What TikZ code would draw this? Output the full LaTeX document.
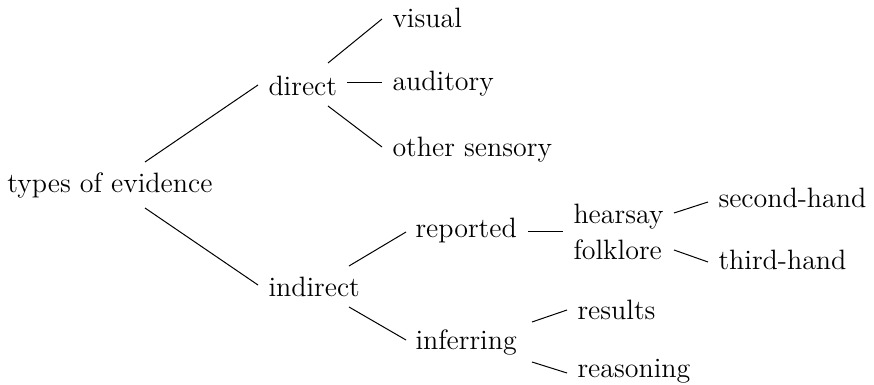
\documentclass[tikz,border=0pt]{standalone}
\begin{document}
\begin{tikzpicture}[x=0.5pt,y=-0.5pt,line width=0.5pt,
    word/.style={anchor=base west,inner sep=0pt,font=\fontsize{14}{17}\selectfont}]
  \useasboundingbox (0,0) rectangle (874,385);
  \node[word] (types) at (7,193) {types of evidence};
  \node[word] (direct) at (268,96) {direct};
  \node[word] (indirect) at (268,297) {indirect};
  \node[word] (visual) at (392,28) {visual};
  \node[word] (auditory) at (392,91) {auditory};
  \node[word] (sensory) at (392,157) {other sensory};
  \node[word] (reported) at (415,238) {reported};
  \node[word] (inferring) at (415,350) {inferring};
  \node[word] (hearsay) at (573,224) {hearsay};
  \node[word] (folklore) at (573,260) {folklore};
  \node[word] (second) at (718,207) {second-hand};
  \node[word] (third) at (718,270) {third-hand};
  \node[word] (results) at (577,320) {results};
  \node[word] (reasoning) at (577,378) {reasoning};
  \draw ([shift={(138,-31)}]types.base west) -- ([shift={(-10,-11)}]direct.base west);
  \draw ([shift={(138,15)}]types.base west) -- ([shift={(-10,-12)}]indirect.base west);
  \draw ([shift={(60,-33)}]direct.base west) -- ([shift={(-10,-9)}]visual.base west);
  \draw ([shift={(79,-13)}]direct.base west) -- ([shift={(-10,-8)}]auditory.base west);
  \draw ([shift={(60,10)}]direct.base west) -- ([shift={(-10,-10)}]sensory.base west);
  \draw ([shift={(81,-31)}]indirect.base west) -- ([shift={(-9,-6)}]reported.base west);
  \draw ([shift={(81,10)}]indirect.base west) -- ([shift={(-9,-10)}]inferring.base west);
  \draw ([shift={(113,-6)}]reported.base west) -- ([shift={(-10,8)}]hearsay.base west);
  \draw ([shift={(101,-11)}]hearsay.base west) -- ([shift={(-10,-5)}]second.base west);
  \draw ([shift={(101,-10)}]folklore.base west) -- ([shift={(-10,-8)}]third.base west);
  \draw ([shift={(117,-28)}]inferring.base west) -- ([shift={(-10,-10)}]results.base west);
  \draw ([shift={(117,12)}]inferring.base west) -- ([shift={(-10,-5)}]reasoning.base west);
\end{tikzpicture}
\end{document}
